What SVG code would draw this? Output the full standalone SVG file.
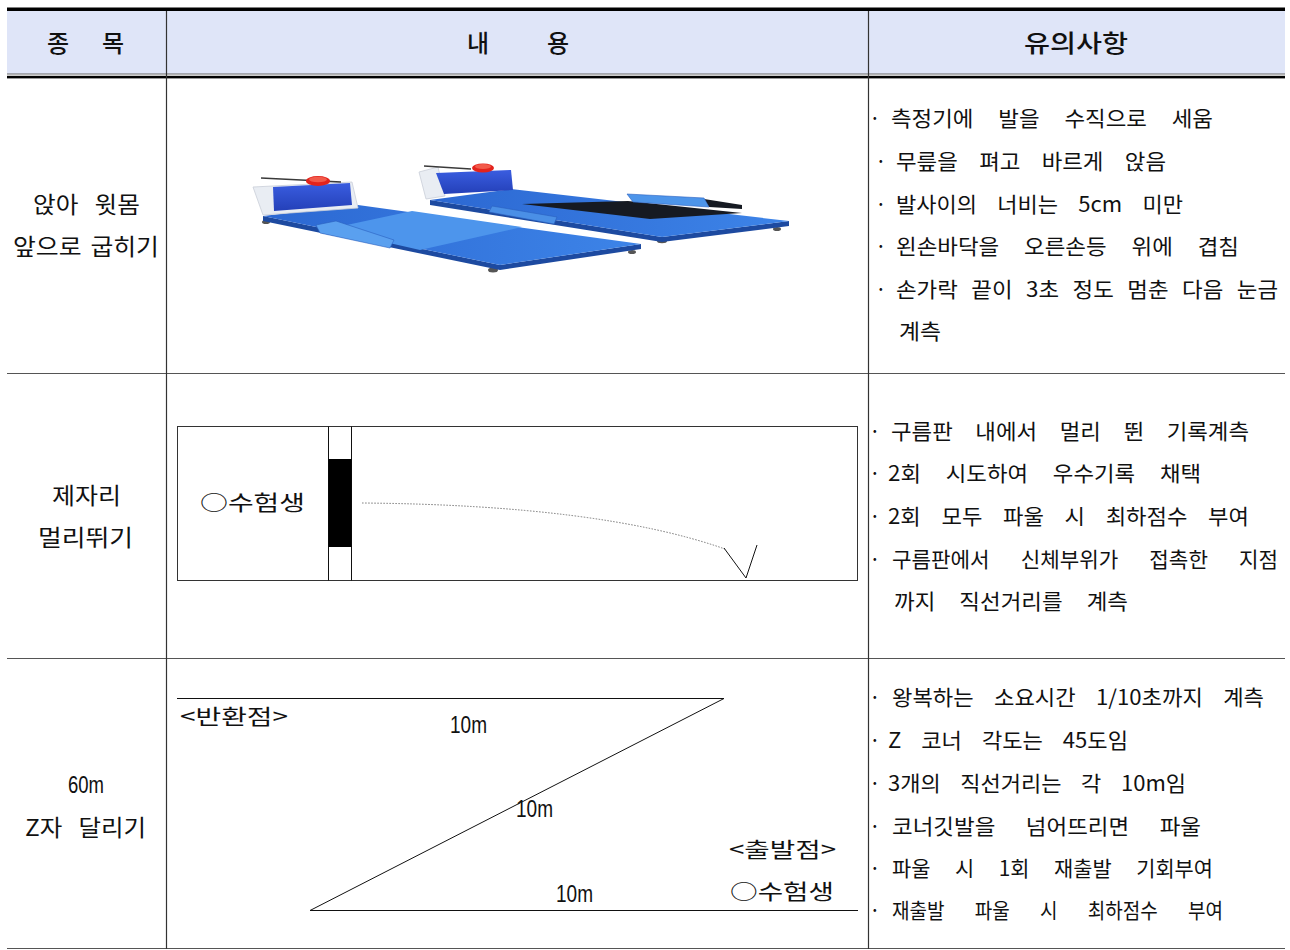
<svg xmlns="http://www.w3.org/2000/svg" width="1290" height="950" viewBox="0 0 1290 950">
<defs>
<style>
.kr{font-family:"Noto Sans CJK KR","Noto Sans",sans-serif;fill:#111}
.hd{font-size:24px;font-weight:500}
.bd{font-size:21px}
.lc{font-size:23px}
.num{font-family:"Liberation Sans","DejaVu Sans",sans-serif;fill:#111;font-size:24px}
.lbl{font-size:21px}
.grid{stroke:#555;stroke-width:1.2;fill:none}
.ln{stroke:#111;stroke-width:1;fill:none}
</style>
<linearGradient id="matA" x1="0" y1="0" x2="1" y2="0">
<stop offset="0" stop-color="#2c68d2"/><stop offset="1" stop-color="#3d84e8"/>
</linearGradient>
<linearGradient id="dev" x1="0" y1="0" x2="0" y2="1">
<stop offset="0" stop-color="#3a5de0"/><stop offset="1" stop-color="#2440b8"/>
</linearGradient>
</defs>
<rect x="0" y="0" width="1290" height="950" fill="#ffffff"/>

<g id="table">
<rect x="7" y="11" width="1278" height="63" fill="#dfe5f8"/>
<rect x="7" y="7.5" width="1278" height="3.5" fill="#000"/>
<line x1="7" y1="74" x2="1285" y2="74" stroke="#666" stroke-width="1"/>
<rect x="7" y="75.8" width="1278" height="2.6" fill="#000"/>
<line class="grid" x1="7" y1="373.5" x2="1285" y2="373.5"/>
<line class="grid" x1="7" y1="658.5" x2="1285" y2="658.5"/>
<line class="grid" x1="7" y1="948.5" x2="1285" y2="948.5"/>
<line x1="166.5" y1="11" x2="166.5" y2="949" stroke="#333" stroke-width="1.2"/>
<line x1="868.5" y1="11" x2="868.5" y2="949" stroke="#333" stroke-width="1.2"/>
</g>

<g id="header">
<text class="kr hd" x="58" y="52" text-anchor="middle">종</text>
<text class="kr hd" x="113" y="52" text-anchor="middle">목</text>
<text class="kr hd" x="478" y="52" text-anchor="middle">내</text>
<text class="kr hd" x="558" y="52" text-anchor="middle">용</text>
<text class="kr hd" x="1024" y="52" textLength="104" lengthAdjust="spacingAndGlyphs">유의사항</text>
</g>

<g id="row1">
<text class="kr lc" x="33" y="213" word-spacing="10" textLength="107" lengthAdjust="spacingAndGlyphs">앉아 윗몸</text>
<text class="kr lc" x="13" y="255" word-spacing="3" textLength="146" lengthAdjust="spacingAndGlyphs">앞으로 굽히기</text>
<g id="mats">
<!-- right (back) mat -->
<ellipse cx="489" cy="212" rx="4" ry="2" fill="#555"/>
<ellipse cx="662" cy="241" rx="5" ry="2.2" fill="#555"/>
<ellipse cx="777" cy="229" rx="4" ry="2" fill="#555"/>
<polygon points="430,200 662,237 789,221 789,226 662,242 430,205" fill="#1d4aa0"/>
<polygon points="430,200 511,189 789,221 662,237" fill="url(#matA)"/>
<polygon points="522,204 628,201 742,213 650,219" fill="#161a22"/>
<polygon points="704,199 742,205 742,209 709,207" fill="#161a22"/>
<polygon points="627,194 704,198 709,207 633,202" fill="#4d95ea" stroke="#2a60c0" stroke-width="0.6"/>
<polygon points="492,206 557,217 554,224 489,212" fill="#4a8fe6" stroke="#2a60c0" stroke-width="0.6"/>
<polygon points="419,172 438,167 445,196 426,199" fill="#e9edf3" stroke="#c9ced8" stroke-width="0.8"/>
<polygon points="436,173 511,170 513,190 444,194" fill="url(#dev)"/>
<line x1="424" y1="166" x2="471" y2="169" stroke="#3a3a3a" stroke-width="1.5"/>
<ellipse cx="483" cy="168" rx="11" ry="4.5" fill="#e3231c"/>
<ellipse cx="483" cy="166.5" rx="8" ry="2.5" fill="#f25a4a"/>
<!-- left (front) mat -->
<ellipse cx="266" cy="222" rx="4" ry="2" fill="#555"/>
<ellipse cx="493" cy="270" rx="5" ry="2.5" fill="#555"/>
<ellipse cx="632" cy="252" rx="4" ry="2" fill="#555"/>
<polygon points="263,216 500,265 641,244 641,249 500,270 263,221" fill="#1d4aa0"/>
<polygon points="263,216 358,205 641,244 500,265" fill="url(#matA)"/>
<polygon points="328,229 412,211 522,227 420,250" fill="#4d95ec"/>
<polygon points="316,225 336,221 394,240 390,248 320,233" fill="#5aa0ef" stroke="#2a60c0" stroke-width="0.6"/>
<polygon points="253,187 352,182 358,208 263,215" fill="#e9edf3" stroke="#c9ced8" stroke-width="0.8"/>
<polygon points="273,187 350,183 352,205 274,211" fill="url(#dev)"/>
<line x1="261" y1="178" x2="341" y2="182" stroke="#3a3a3a" stroke-width="1.5"/>
<ellipse cx="318" cy="181" rx="12" ry="5" fill="#e3231c"/>
<ellipse cx="318" cy="179.5" rx="9" ry="2.8" fill="#f25a4a"/>
</g>
<g id="notes1">
<text class="kr bd" x="869" y="126">·</text>
<text class="kr bd" x="891" y="126" word-spacing="18.6" textLength="322" lengthAdjust="spacingAndGlyphs">측정기에 발을 수직으로 세움</text>
<text class="kr bd" x="875" y="169">·</text>
<text class="kr bd" x="896" y="169" word-spacing="15.3" textLength="270" lengthAdjust="spacingAndGlyphs">무릎을 펴고 바르게 앉음</text>
<text class="kr bd" x="875" y="212">·</text>
<text class="kr bd" x="896" y="212" word-spacing="14.6" textLength="287" lengthAdjust="spacingAndGlyphs">발사이의 너비는 5cm 미만</text>
<text class="kr bd" x="875" y="254">·</text>
<text class="kr bd" x="896" y="254" word-spacing="18.6" textLength="343" lengthAdjust="spacingAndGlyphs">왼손바닥을 오른손등 위에 겹침</text>
<text class="kr bd" x="875" y="297">·</text>
<text class="kr bd" x="896" y="297" word-spacing="8" textLength="382" lengthAdjust="spacingAndGlyphs">손가락 끝이 3초 정도 멈춘 다음 눈금</text>
<text class="kr bd" x="899" y="339" textLength="42" lengthAdjust="spacingAndGlyphs">계측</text>
</g>
</g>

<g id="row2">
<text class="kr lc" x="52" y="504" textLength="69" lengthAdjust="spacingAndGlyphs">제자리</text>
<text class="kr lc" x="38" y="546" textLength="95" lengthAdjust="spacingAndGlyphs">멀리뛰기</text>
<g id="jump">
<rect x="177.5" y="426.5" width="680" height="154" fill="none" stroke="#333" stroke-width="1"/>
<line class="ln" x1="328.5" y1="426.5" x2="328.5" y2="580.5"/>
<line class="ln" x1="351.5" y1="426.5" x2="351.5" y2="580.5"/>
<rect x="328.5" y="459" width="23" height="88" fill="#000"/>
<text class="kr lbl" x="200" y="510" textLength="105" lengthAdjust="spacingAndGlyphs">○수험생</text>
<path d="M362,503 Q600,505 725,549" fill="none" stroke="#777" stroke-width="1" stroke-dasharray="1.5 1.5"/>
<polyline points="724,548 746,578 757,545" fill="none" stroke="#111" stroke-width="1"/>
</g>
<g id="notes2">
<text class="kr bd" x="869" y="439">·</text>
<text class="kr bd" x="891" y="439" word-spacing="16.5" textLength="358" lengthAdjust="spacingAndGlyphs">구름판 내에서 멀리 뛴 기록계측</text>
<text class="kr bd" x="869" y="481">·</text>
<text class="kr bd" x="888" y="481" word-spacing="18.7" textLength="313" lengthAdjust="spacingAndGlyphs">2회 시도하여 우수기록 채택</text>
<text class="kr bd" x="869" y="524">·</text>
<text class="kr bd" x="888" y="524" word-spacing="14.8" textLength="361" lengthAdjust="spacingAndGlyphs">2회 모두 파울 시 최하점수 부여</text>
<text class="kr bd" x="869" y="567">·</text>
<text class="kr bd" x="892" y="567" word-spacing="26" textLength="386" lengthAdjust="spacingAndGlyphs">구름판에서 신체부위가 접촉한 지점</text>
<text class="kr bd" x="894" y="609" word-spacing="17.8" textLength="234" lengthAdjust="spacingAndGlyphs">까지 직선거리를 계측</text>
</g>
</g>

<g id="row3">
<text class="num" x="68" y="793" textLength="36" lengthAdjust="spacingAndGlyphs">60m</text>
<text class="kr lc" x="25" y="836" word-spacing="10" textLength="121" lengthAdjust="spacingAndGlyphs">Z자 달리기</text>
<g id="zrun">
<line class="ln" x1="177" y1="698.5" x2="724" y2="698.5"/>
<line class="ln" x1="724" y1="698.5" x2="310" y2="910.5"/>
<line class="ln" x1="310" y1="910.5" x2="858" y2="910.5"/>
<text class="kr lbl" x="180" y="724" textLength="108" lengthAdjust="spacingAndGlyphs">&lt;반환점&gt;</text>
<text class="num" x="450" y="733" textLength="37" lengthAdjust="spacingAndGlyphs">10m</text>
<text class="num" x="516" y="817" textLength="37" lengthAdjust="spacingAndGlyphs">10m</text>
<text class="num" x="556" y="902" textLength="37" lengthAdjust="spacingAndGlyphs">10m</text>
<text class="kr lbl" x="729" y="857" textLength="107" lengthAdjust="spacingAndGlyphs">&lt;출발점&gt;</text>
<text class="kr lbl" x="730" y="899" textLength="104" lengthAdjust="spacingAndGlyphs">○수험생</text>
</g>
<g id="notes3">
<text class="kr bd" x="869" y="705">·</text>
<text class="kr bd" x="892" y="705" word-spacing="14.6" textLength="372" lengthAdjust="spacingAndGlyphs">왕복하는 소요시간 1/10초까지 계측</text>
<text class="kr bd" x="869" y="748">·</text>
<text class="kr bd" x="888" y="748" word-spacing="14.3" textLength="240" lengthAdjust="spacingAndGlyphs">Z 코너 각도는 45도임</text>
<text class="kr bd" x="869" y="791">·</text>
<text class="kr bd" x="888" y="791" word-spacing="14" textLength="298" lengthAdjust="spacingAndGlyphs">3개의 직선거리는 각 10m임</text>
<text class="kr bd" x="869" y="834">·</text>
<text class="kr bd" x="892" y="834" word-spacing="23.8" textLength="309" lengthAdjust="spacingAndGlyphs">코너깃발을 넘어뜨리면 파울</text>
<text class="kr bd" x="869" y="876">·</text>
<text class="kr bd" x="892" y="876" word-spacing="20" textLength="321" lengthAdjust="spacingAndGlyphs">파울 시 1회 재출발 기회부여</text>
<text class="kr bd" x="869" y="918">·</text>
<text class="kr bd" x="892" y="918" word-spacing="28.6" textLength="331" lengthAdjust="spacingAndGlyphs">재출발 파울 시 최하점수 부여</text>
</g>
</g>
</svg>
